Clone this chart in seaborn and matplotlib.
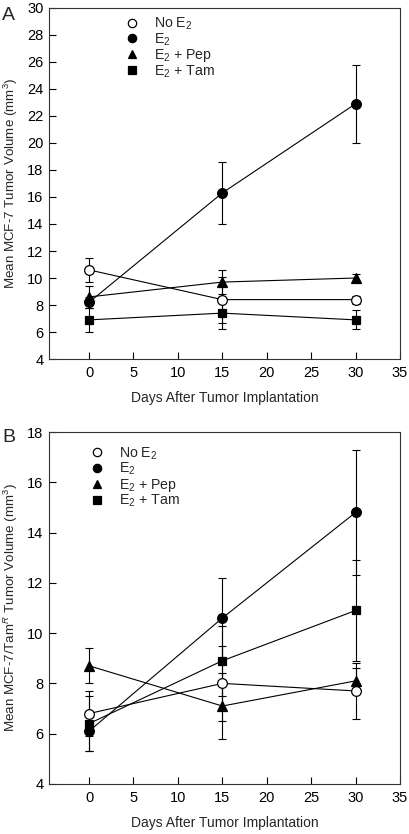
import numpy as np
import pandas as pd
import matplotlib
matplotlib.use("Agg")
import matplotlib.pyplot as plt
import seaborn as sns
from matplotlib.lines import Line2D

# ---------------- data ----------------
days = [0, 15, 30]
group_labels = ["No E$_2$", "E$_2$", "E$_2$ + Pep", "E$_2$ + Tam"]
x_ticks = [0, 5, 10, 15, 20, 25, 30, 35]

# Panel A: MCF-7
A_noE2 = [10.6, 8.4, 8.4]
A_noE2_err = [0.9, 1.7, 0.3]
A_e2 = [8.2, 16.3, 22.9]
A_e2_err = [0.4, 2.3, 2.9]
A_pep = [8.6, 9.7, 10.0]
A_pep_err = [0.8, 0.9, 0.3]
A_tam = [6.9, 7.4, 6.9]
A_tam_err = [0.9, 1.2, 0.7]
A_yticks = [4, 6, 8, 10, 12, 14, 16, 18, 20, 22, 24, 26, 28, 30]

# Panel B: MCF-7/TamR
B_noE2 = [6.8, 8.0, 7.7]
B_noE2_err = [0.9, 1.5, 1.1]
B_e2 = [6.1, 10.6, 14.8]
B_e2_err = [0.8, 1.6, 2.5]
B_pep = [8.7, 7.1, 8.1]
B_pep_err = [0.7, 1.3, 0.5]
B_tam = [6.4, 8.9, 10.9]
B_tam_err = [1.1, 1.4, 2.0]
B_yticks = [4, 6, 8, 10, 12, 14, 16, 18]

# ---------------- style ----------------
sns.set_style("ticks")
plt.rcParams['font.family'] = ['Liberation Sans', 'DejaVu Sans']
plt.rcParams['mathtext.fontset'] = 'custom'
plt.rcParams['mathtext.rm'] = 'Liberation Sans'
plt.rcParams['mathtext.it'] = 'Liberation Sans:italic'
plt.rcParams['mathtext.bf'] = 'Liberation Sans:bold'

styles = {
    "No E$_2$": dict(marker='o', mfc='white'),
    "E$_2$": dict(marker='o', mfc='black'),
    "E$_2$ + Pep": dict(marker='^', mfc='black'),
    "E$_2$ + Tam": dict(marker='s', mfc='black'),
}

fig = plt.figure(figsize=(4.09, 8.34), dpi=100)
axA = fig.add_axes([0.120, 0.5695, 0.858, 0.421])
axB = fig.add_axes([0.120, 0.060, 0.858, 0.422])


def draw(ax, means, errs, yticks, ylabel, leg_anchor):
    rows = []
    for lab, m, e in zip(group_labels, means, errs):
        for d, v, s in zip(days, m, e):
            rows.append(dict(day=d, value=v, err=s, group=lab))
    df = pd.DataFrame(rows)
    # error bars
    for lab in group_labels:
        sub = df[df.group == lab]
        ax.errorbar(sub.day, sub.value, yerr=sub.err, fmt='none', ecolor='black',
                    elinewidth=0.8, capsize=3.2, capthick=0.8, zorder=1)
    # lines + markers (No E2 last so open circles sit on top)
    order = ["E$_2$", "E$_2$ + Pep", "E$_2$ + Tam", "No E$_2$"]
    for lab in order:
        sub = df[df.group == lab]
        st = styles[lab]
        sns.lineplot(data=sub, x='day', y='value', ax=ax, color='black',
                     linewidth=0.8, marker=st['marker'], markersize=7 if st['marker'] != 's' else 6.3,
                     markerfacecolor=st['mfc'], markeredgecolor='black',
                     markeredgewidth=0.9, legend=False, zorder=3)
    ax.set_xlim(-4.5, 35)
    ax.set_ylim(yticks[0], yticks[-1])
    ax.set_xticks(x_ticks)
    ax.set_yticks(yticks)
    ax.tick_params(axis='both', direction='in', length=5, width=0.8,
                   labelsize=10.5, colors='black')
    ax.tick_params(axis='x', pad=5)
    ax.tick_params(axis='y', pad=4)
    for sp in ax.spines.values():
        sp.set_visible(True)
        sp.set_linewidth(0.8)
        sp.set_color('#333333')
    ax.set_xlabel("Days After Tumor Implantation", fontsize=10, labelpad=8)
    ax.set_ylabel(ylabel, fontsize=9.6, labelpad=5)
    handles = [Line2D([], [], linestyle='none', marker=styles[l]['marker'],
                      markerfacecolor=styles[l]['mfc'], markeredgecolor='black',
                      markersize=6, markeredgewidth=0.9, label=l) for l in group_labels]
    ax.legend(handles=handles, loc='upper left', bbox_to_anchor=leg_anchor,
              frameon=False, fontsize=10.2, handlelength=0.9, handletextpad=1.15,
              labelspacing=-0.05, borderpad=0, borderaxespad=0)


draw(axA, [A_noE2, A_e2, A_pep, A_tam], [A_noE2_err, A_e2_err, A_pep_err, A_tam_err],
     A_yticks, "Mean MCF-7 Tumor Volume (mm$^3$)", (0.217, 0.978))
draw(axB, [B_noE2, B_e2, B_pep, B_tam], [B_noE2_err, B_e2_err, B_pep_err, B_tam_err],
     B_yticks, "Mean MCF-7/Tam$^R$ Tumor Volume (mm$^3$)", (0.117, 0.962))

fig.text(0.005, 1 - 20 / 834, "A", fontsize=14, va='baseline')
fig.text(0.005, 1 - 442 / 834, "B", fontsize=14, va='baseline')

fig.savefig("out.png", dpi=100)
